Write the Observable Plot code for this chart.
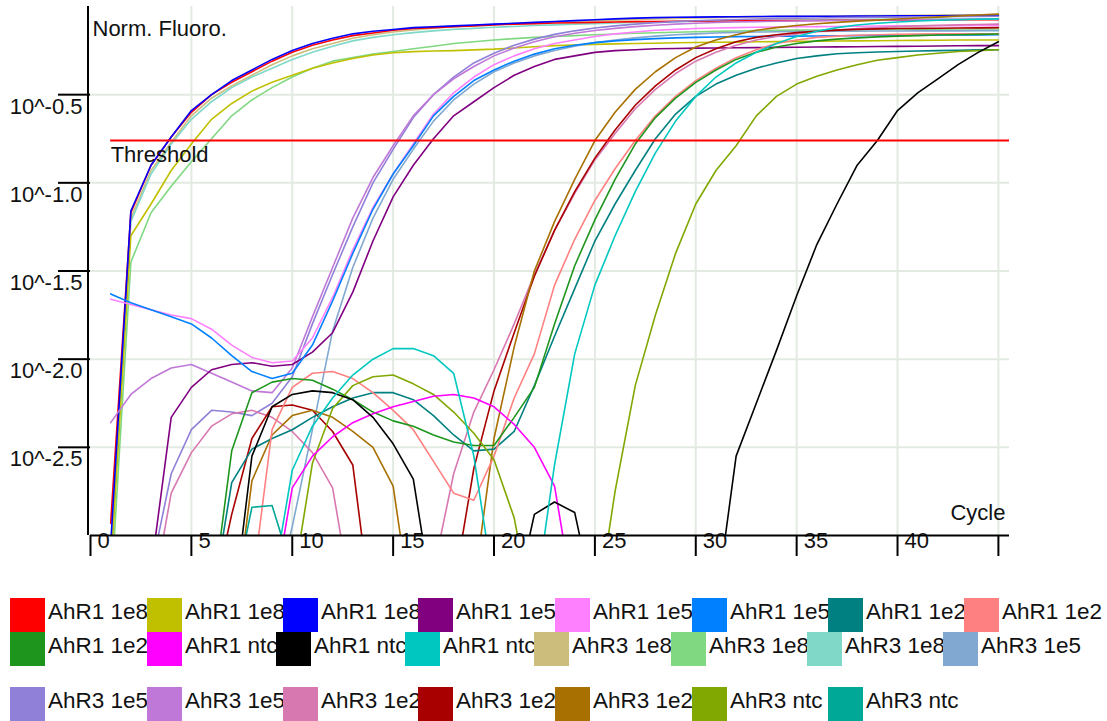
<!DOCTYPE html>
<html>
<head>
<meta charset="utf-8">
<script src="https://cdn.jsdelivr.net/npm/d3@7"></script>
<script src="https://cdn.jsdelivr.net/npm/@observablehq/plot@0.6"></script>
<style>
  body { margin: 0; background: #fff; }
  #wrap { width: 1107px; }
  #legend { position: relative; width: 1107px; height: 151px; overflow: hidden; }
  .item { position: absolute; height: 34px; }
  .sw { position: absolute; left: 0; top: 0; width: 35px; height: 34px; }
  .lb { position: absolute; left: 38px; top: -3px; line-height: 34px; font-size: 22.5px;
        font-family: "Liberation Sans", Arial, sans-serif; color: #111; white-space: nowrap; }
</style>
</head>
<body>
<div id="wrap"><div id="chart"></div><div id="legend"></div></div>
<script>
// ---- data: log10 of normalized fluorescence per cycle (cycles 1..n) ----
const cycles = [1,2,3,4,5,6,7,8,9,10,11,12,13,14,15,16,17,18,19,20,21,22,23,24,25,26,27,28,29,30,31,32,33,34,35,36,37,38,39,40,41,42,43,44,45];

const seriesNames = ["AhR1 1e8","AhR1 1e8","AhR1 1e8","AhR1 1e5","AhR1 1e5","AhR1 1e5","AhR1 1e2","AhR1 1e2",
                     "AhR1 1e2","AhR1 ntc","AhR1 ntc","AhR1 ntc","AhR3 1e8","AhR3 1e8","AhR3 1e8","AhR3 1e5",
                     "AhR3 1e5","AhR3 1e5","AhR3 1e2","AhR3 1e2","AhR3 1e2","AhR3 ntc","AhR3 ntc"];
const seriesColors = ["#ff0000","#c0c000","#0000ff","#800080","#ff80ff","#0080ff","#008080","#ff8080",
                      "#1e961e","#ff00ff","#000000","#00c8c0","#cdbd7d","#80d880","#80d8c8","#80a8d0",
                      "#9080d8","#c078d8","#d878b0","#a80000","#a87000","#80a800","#00a898"];

const ahr1_1e8_a = [-2.93,-1.17,-0.90,-0.74,-0.60,-0.50,-0.43,-0.37,-0.31,-0.26,-0.22,-0.19,-0.165,-0.15,-0.135,-0.125,-0.12,-0.115,-0.11,-0.105,-0.10,-0.097,-0.094,-0.092,-0.09,-0.088,-0.086,-0.085,-0.084,-0.083,-0.082,-0.081,-0.08,-0.08,-0.079,-0.079,-0.078,-0.078,-0.077,-0.077,-0.076,-0.076,-0.075,-0.075,-0.075];
const ahr1_1e8_b = [-3.2,-1.30,-1.12,-0.93,-0.78,-0.64,-0.55,-0.48,-0.43,-0.39,-0.35,-0.32,-0.295,-0.275,-0.262,-0.256,-0.252,-0.25,-0.246,-0.242,-0.235,-0.228,-0.222,-0.218,-0.215,-0.212,-0.21,-0.208,-0.206,-0.204,-0.203,-0.202,-0.2,-0.199,-0.198,-0.197,-0.196,-0.195,-0.194,-0.193,-0.192,-0.191,-0.19,-0.19,-0.19];
const ahr1_1e8_c = [-3.05,-1.16,-0.90,-0.74,-0.59,-0.50,-0.42,-0.36,-0.30,-0.25,-0.21,-0.18,-0.155,-0.14,-0.13,-0.12,-0.115,-0.11,-0.105,-0.10,-0.095,-0.09,-0.085,-0.08,-0.075,-0.07,-0.066,-0.063,-0.061,-0.06,-0.059,-0.058,-0.057,-0.056,-0.056,-0.055,-0.055,-0.054,-0.054,-0.053,-0.053,-0.053,-0.052,-0.052,-0.052];
const ahr1_1e5_a = [-3.4,-3.4,-3.2,-2.33,-2.16,-2.06,-2.03,-2.02,-2.04,-2.03,-1.96,-1.85,-1.62,-1.33,-1.08,-0.90,-0.75,-0.62,-0.54,-0.46,-0.39,-0.34,-0.30,-0.28,-0.26,-0.25,-0.245,-0.24,-0.238,-0.236,-0.235,-0.234,-0.233,-0.232,-0.231,-0.23,-0.229,-0.228,-0.227,-0.226,-0.225,-0.224,-0.223,-0.222,-0.222];
const ahr1_1e5_b = [-1.66,-1.69,-1.72,-1.75,-1.77,-1.83,-1.92,-1.99,-2.02,-2.01,-1.88,-1.65,-1.38,-1.14,-0.95,-0.78,-0.61,-0.49,-0.40,-0.33,-0.28,-0.24,-0.21,-0.19,-0.17,-0.155,-0.145,-0.135,-0.13,-0.125,-0.122,-0.12,-0.118,-0.116,-0.115,-0.114,-0.113,-0.112,-0.111,-0.11,-0.11,-0.109,-0.109,-0.108,-0.108];
const ahr1_1e5_c = [-1.63,-1.68,-1.72,-1.76,-1.80,-1.88,-1.98,-2.07,-2.11,-2.08,-1.92,-1.67,-1.40,-1.15,-0.95,-0.79,-0.62,-0.51,-0.42,-0.36,-0.31,-0.27,-0.24,-0.22,-0.205,-0.195,-0.188,-0.182,-0.178,-0.175,-0.173,-0.171,-0.17,-0.169,-0.168,-0.167,-0.166,-0.165,-0.164,-0.163,-0.162,-0.162,-0.161,-0.161,-0.16];
const ahr1_1e2_a = [-3.4,-3.4,-3.4,-3.4,-3.4,-3.4,-2.70,-2.51,-2.45,-2.40,-2.33,-2.27,-2.22,-2.19,-2.19,-2.23,-2.32,-2.43,-2.52,-2.51,-2.41,-2.15,-1.87,-1.60,-1.33,-1.12,-0.93,-0.75,-0.61,-0.51,-0.44,-0.39,-0.35,-0.32,-0.295,-0.28,-0.268,-0.262,-0.258,-0.255,-0.252,-0.25,-0.248,-0.246,-0.245];
const ahr1_1e2_b = [-3.4,-3.4,-3.4,-3.4,-3.4,-3.4,-3.4,-3.3,-2.40,-2.16,-2.08,-2.07,-2.11,-2.19,-2.29,-2.40,-2.58,-2.76,-2.80,-2.55,-2.22,-1.97,-1.58,-1.32,-1.10,-0.92,-0.76,-0.62,-0.51,-0.42,-0.35,-0.29,-0.245,-0.21,-0.19,-0.175,-0.168,-0.163,-0.16,-0.158,-0.156,-0.155,-0.155,-0.155,-0.155];
const ahr1_1e2_c = [-3.4,-3.4,-3.4,-3.4,-3.4,-3.4,-2.52,-2.19,-2.13,-2.11,-2.12,-2.17,-2.23,-2.30,-2.35,-2.38,-2.43,-2.47,-2.49,-2.49,-2.33,-2.16,-1.80,-1.47,-1.21,-0.98,-0.78,-0.63,-0.52,-0.43,-0.36,-0.30,-0.26,-0.23,-0.21,-0.195,-0.185,-0.178,-0.172,-0.168,-0.165,-0.162,-0.16,-0.158,-0.156];
const ahr1_ntc_a = [-3.4,-3.4,-3.4,-3.4,-3.4,-3.4,-3.4,-3.4,-3.4,-2.73,-2.55,-2.44,-2.36,-2.31,-2.27,-2.24,-2.21,-2.20,-2.22,-2.27,-2.37,-2.50,-2.72,-3.4];
const ahr1_ntc_b = [-3.5,-3.5,-3.5,-3.5,-3.5,-3.5,-3.5,-2.55,-2.27,-2.20,-2.18,-2.19,-2.23,-2.33,-2.48,-2.68,-3.4,-3.5,-3.5,-3.5,-3.4,-2.88,-2.81,-2.87,-3.4,-3.5,-3.5,-3.5,-3.5,-3.5,-3.4,-2.55,-2.25,-1.95,-1.64,-1.35,-1.12,-0.90,-0.76,-0.59,-0.49,-0.41,-0.33,-0.26,-0.20];
const ahr1_ntc_c = [-3.4,-3.4,-3.4,-3.4,-3.4,-3.4,-3.4,-3.4,-3.3,-2.63,-2.38,-2.22,-2.09,-2.0,-1.94,-1.94,-1.98,-2.08,-2.55,-3.3,-3.5,-3.4,-2.60,-1.97,-1.58,-1.30,-1.05,-0.83,-0.65,-0.51,-0.40,-0.32,-0.26,-0.21,-0.17,-0.14,-0.12,-0.105,-0.095,-0.088,-0.082,-0.078,-0.075,-0.072,-0.07];
const ahr3_1e8_a = [-3.1,-1.2,-0.93,-0.77,-0.62,-0.52,-0.45,-0.39,-0.33,-0.28,-0.24,-0.21,-0.18,-0.16,-0.145,-0.133,-0.123,-0.115,-0.108,-0.102,-0.097,-0.092,-0.088,-0.084,-0.08,-0.077,-0.074,-0.071,-0.068,-0.065,-0.063,-0.061,-0.059,-0.057,-0.056,-0.055,-0.054,-0.053,-0.052,-0.051,-0.05,-0.049,-0.048,-0.047,-0.046];
const ahr3_1e8_b = [-3.35,-1.45,-1.17,-1.02,-0.88,-0.75,-0.62,-0.53,-0.46,-0.40,-0.35,-0.31,-0.29,-0.27,-0.255,-0.24,-0.225,-0.21,-0.20,-0.19,-0.182,-0.175,-0.17,-0.165,-0.16,-0.156,-0.152,-0.149,-0.146,-0.143,-0.141,-0.139,-0.137,-0.135,-0.134,-0.133,-0.132,-0.131,-0.13,-0.13,-0.129,-0.129,-0.128,-0.128,-0.128];
const ahr3_1e8_c = [-3.15,-1.22,-0.95,-0.78,-0.64,-0.54,-0.46,-0.40,-0.35,-0.30,-0.26,-0.225,-0.195,-0.175,-0.16,-0.148,-0.138,-0.13,-0.124,-0.118,-0.113,-0.108,-0.104,-0.1,-0.097,-0.094,-0.091,-0.088,-0.086,-0.084,-0.082,-0.08,-0.079,-0.078,-0.077,-0.076,-0.075,-0.074,-0.073,-0.072,-0.072,-0.071,-0.071,-0.07,-0.07];
const ahr3_1e5_a = [-3.4,-3.4,-3.4,-3.4,-3.4,-3.4,-3.4,-3.4,-3.4,-2.95,-2.40,-1.84,-1.48,-1.20,-0.98,-0.81,-0.65,-0.53,-0.44,-0.37,-0.32,-0.28,-0.25,-0.225,-0.205,-0.19,-0.178,-0.168,-0.16,-0.155,-0.15,-0.147,-0.145,-0.143,-0.142,-0.141,-0.14,-0.14,-0.139,-0.139,-0.138,-0.138,-0.138,-0.137,-0.137];
const ahr3_1e5_b = [-3.4,-3.4,-3.2,-2.65,-2.40,-2.29,-2.30,-2.32,-2.25,-2.10,-1.80,-1.52,-1.25,-1.0,-0.81,-0.63,-0.50,-0.40,-0.32,-0.265,-0.22,-0.185,-0.158,-0.138,-0.122,-0.11,-0.10,-0.092,-0.086,-0.081,-0.077,-0.074,-0.071,-0.069,-0.067,-0.065,-0.063,-0.062,-0.061,-0.06,-0.059,-0.058,-0.057,-0.056,-0.055];
const ahr3_1e5_c = [-2.36,-2.20,-2.11,-2.05,-2.03,-2.08,-2.13,-2.18,-2.19,-2.05,-1.76,-1.48,-1.20,-0.97,-0.79,-0.62,-0.50,-0.41,-0.34,-0.28,-0.235,-0.20,-0.172,-0.152,-0.136,-0.124,-0.114,-0.106,-0.10,-0.095,-0.091,-0.088,-0.086,-0.084,-0.082,-0.08,-0.079,-0.078,-0.077,-0.076,-0.075,-0.074,-0.073,-0.072,-0.072];
const ahr3_1e2_a = [-3.4,-3.4,-3.4,-2.76,-2.53,-2.38,-2.31,-2.29,-2.33,-2.41,-2.53,-2.73,-3.4,-3.5,-3.5,-3.5,-3.2,-2.65,-2.30,-2.06,-1.80,-1.52,-1.27,-1.06,-0.87,-0.72,-0.58,-0.47,-0.38,-0.31,-0.26,-0.22,-0.19,-0.17,-0.155,-0.143,-0.133,-0.125,-0.119,-0.114,-0.11,-0.107,-0.104,-0.102,-0.10];
const ahr3_1e2_b = [-3.4,-3.4,-3.4,-3.4,-3.4,-3.4,-2.88,-2.45,-2.27,-2.26,-2.29,-2.41,-2.60,-3.5,-3.5,-3.5,-3.5,-3.3,-2.62,-2.18,-1.85,-1.53,-1.27,-1.05,-0.86,-0.70,-0.56,-0.45,-0.36,-0.29,-0.24,-0.20,-0.175,-0.16,-0.148,-0.14,-0.134,-0.13,-0.127,-0.125,-0.124,-0.123,-0.122,-0.121,-0.12];
const ahr3_1e2_c = [-3.6,-3.6,-3.6,-3.6,-3.6,-3.6,-3.6,-2.69,-2.43,-2.32,-2.29,-2.33,-2.41,-2.50,-2.72,-3.5,-3.6,-3.6,-3.3,-2.45,-1.93,-1.50,-1.22,-0.98,-0.76,-0.60,-0.47,-0.37,-0.29,-0.23,-0.19,-0.16,-0.135,-0.12,-0.108,-0.098,-0.09,-0.083,-0.077,-0.071,-0.065,-0.06,-0.054,-0.048,-0.043];
const ahr3_ntc_a = [-3.4,-3.4,-3.4,-3.4,-3.4,-3.4,-3.4,-3.4,-3.4,-3.3,-2.59,-2.28,-2.15,-2.10,-2.09,-2.14,-2.20,-2.30,-2.42,-2.57,-2.90,-3.5,-3.6,-3.6,-3.5,-2.75,-2.15,-1.75,-1.40,-1.12,-0.93,-0.79,-0.62,-0.51,-0.44,-0.395,-0.36,-0.33,-0.305,-0.29,-0.275,-0.265,-0.255,-0.25,-0.245];
const ahr3_ntc_b = [-3.4,-3.4,-3.4,-3.4,-3.4,-3.4,-3.4,-2.84,-2.83,-3.2];

const allValues = [ahr1_1e8_a, ahr1_1e8_b, ahr1_1e8_c, ahr1_1e5_a, ahr1_1e5_b, ahr1_1e5_c,
  ahr1_1e2_a, ahr1_1e2_b, ahr1_1e2_c, ahr1_ntc_a, ahr1_ntc_b, ahr1_ntc_c,
  ahr3_1e8_a, ahr3_1e8_b, ahr3_1e8_c, ahr3_1e5_a, ahr3_1e5_b, ahr3_1e5_c,
  ahr3_1e2_a, ahr3_1e2_b, ahr3_1e2_c, ahr3_ntc_a, ahr3_ntc_b];
const drawOrder = [12,13,14,1,0,2,15,16,17,3,4,5,18,19,20,6,7,8,21,22,9,10,11];

const thresholdLog = -0.76;
const yTicks = [-0.5, -1.0, -1.5, -2.0, -2.5];
const xTicks = [0, 5, 10, 15, 20, 25, 30, 35, 40, 45];
const xTickLabels = [0, 5, 10, 15, 20, 25, 30, 35, 40];

// ---- build table ----
const table = [];
drawOrder.forEach((i, k) => {
  allValues[i].forEach((v, j) => table.push({id: k, color: seriesColors[i], cycle: cycles[j], v}));
});

const gridColor = "#e2eae2";
const chartFont = '"Liberation Sans", Arial, sans-serif';

const chart = Plot.plot({
  width: 1107,
  height: 570,
  marginLeft: 90,
  marginRight: 98,
  marginTop: 6,
  marginBottom: 35,
  x: {domain: [0, 45.55], axis: null},
  y: {domain: [-3, 0], axis: null},
  color: {type: "identity"},
  style: {background: "#fff", color: "#000", fontFamily: chartFont, fontSize: "22px", overflow: "visible"},
  marks: [
    Plot.ruleX(xTicks.filter(d => d > 0), {stroke: gridColor, strokeWidth: 2}),
    Plot.ruleY(yTicks, {stroke: gridColor, strokeWidth: 2}),
    Plot.line(table, {x: "cycle", y: "v", z: "id", stroke: "color", strokeWidth: 1.6, clip: true}),
    Plot.ruleY([thresholdLog], {x1: 1, x2: 45.55, stroke: "#ff0000", strokeWidth: 2}),
    Plot.text([thresholdLog], {x: 1, y: d => d, text: () => "Threshold", textAnchor: "start", dy: 14, fill: "#111"}),
    Plot.text(["Norm. Fluoro."], {frameAnchor: "top-left", text: d => d, textAnchor: "start", dx: 2, dy: 14, fill: "#111"}),
    Plot.text(["Cycle"], {frameAnchor: "bottom-right", text: d => d, textAnchor: "end", dx: -4, dy: -16, fill: "#111"}),
    // axes
    Plot.axisY({ticks: yTicks, tickSize: 32, tickFormat: () => "", label: null, strokeWidth: 2, anchor: "left"}),
    Plot.text(yTicks, {frameAnchor: "left", y: d => d, text: d => "10^" + d.toFixed(1), textAnchor: "end", dx: -8, dy: 12, fill: "#111"}),
    Plot.axisX({ticks: xTicks, tickSize: 21, tickFormat: () => "", label: null, strokeWidth: 2, anchor: "bottom"}),
    Plot.text(xTickLabels, {x: d => d, frameAnchor: "bottom", text: d => String(d), textAnchor: "start", dx: 7, dy: 12, fill: "#111"}),
    Plot.ruleX([0], {stroke: "#000", strokeWidth: 2, dx: -2.5}),
    Plot.ruleY([-3], {stroke: "#000", strokeWidth: 2})
  ]
});
document.getElementById("chart").appendChild(chart);

// ---- legend (HTML, below the SVG) ----
const legendRowTops = [28, 62, 117];
const legendLefts = [
  [10, 147, 283, 418, 555, 692, 828, 964],
  [10, 147, 276, 405, 534, 671, 807, 943],
  [10, 147, 283, 418, 555, 692, 828, 964]
];
const legend = document.getElementById("legend");
seriesNames.forEach((name, i) => {
  const row = Math.floor(i / 8), col = i % 8;
  const item = document.createElement("div");
  item.className = "item";
  item.style.left = legendLefts[row][col] + "px";
  item.style.top = legendRowTops[row] + "px";
  const sw = document.createElement("div");
  sw.className = "sw";
  sw.style.background = seriesColors[i];
  const lb = document.createElement("div");
  lb.className = "lb";
  lb.textContent = name;
  item.appendChild(lb);
  item.appendChild(sw);
  legend.appendChild(item);
});
</script>
</body>
</html>
